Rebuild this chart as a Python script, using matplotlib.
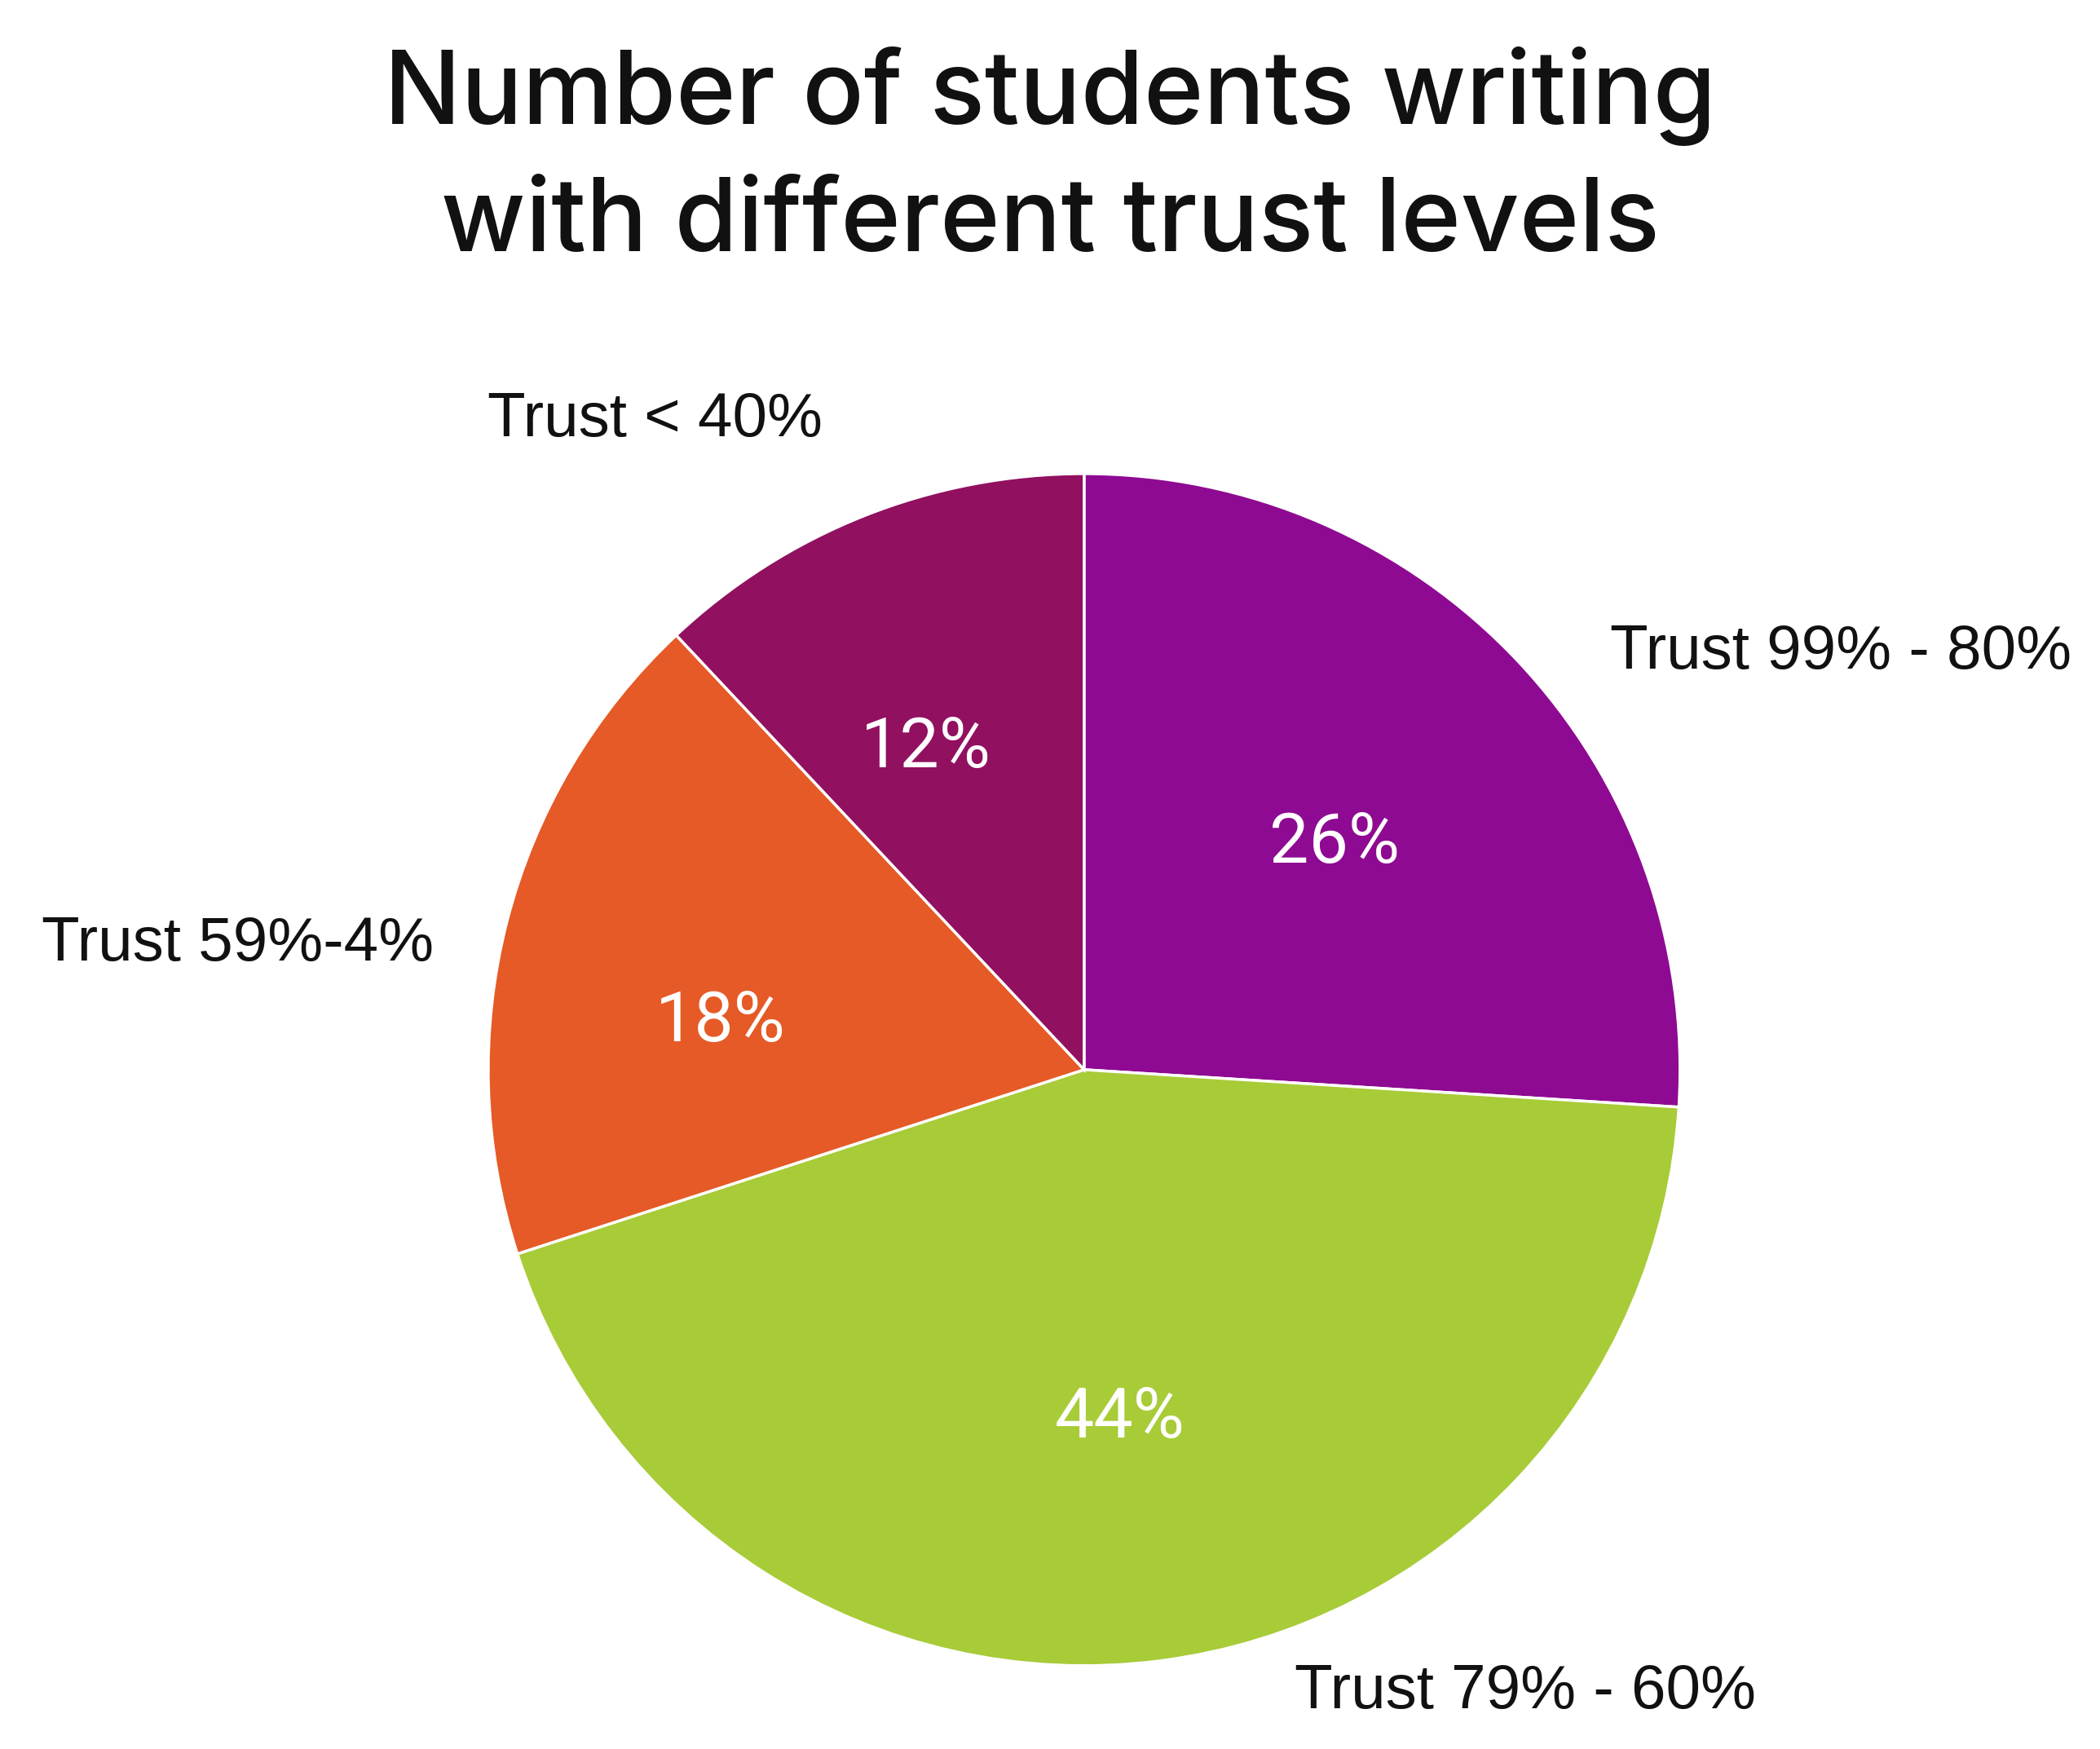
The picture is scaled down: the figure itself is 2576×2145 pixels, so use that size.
import matplotlib.pyplot as plt

# data
categories = ["Trust 99% - 80%", "Trust 79% - 60%", "Trust 59%-4%", "Trust < 40%"]
shares = [26, 44, 18, 12]
colors = ["#8E0A92", "#A8CB38", "#E55A26", "#911060"]

# where the outer labels and the percent labels sit (data units, radius 1)
label_pos = [(1.27, 0.70), (0.74, -1.045), (-1.42, 0.21), (-0.72, 1.09)]
pct_pos = [(0.42, 0.38), (0.06, -0.585), (-0.61, 0.08), (-0.265, 0.54)]

fig = plt.figure(figsize=(25.76, 21.45), dpi=100)
fig.patch.set_facecolor("white")

# title
fig.text(0.5, 0.945, "Number of students writing", ha="center", va="center",
         fontsize=90, family="Inter", weight="medium", color="#111111")
fig.text(0.5, 0.872, "with different trust levels", ha="center", va="center",
         fontsize=90, family="Inter", weight="medium", color="#111111")

ax = fig.add_axes([0.2325, 0.0476, 0.5675, 0.6816])
wedges, _ = ax.pie(shares, colors=colors, startangle=90, counterclock=False,
                   radius=1, wedgeprops={"edgecolor": "white", "linewidth": 2.5})
ax.set_xlim(-1, 1)
ax.set_ylim(-1, 1)
ax.set_aspect("equal")
ax.axis("off")

for name, (x, y) in zip(categories, label_pos):
    ax.text(x, y, name, ha="center", va="center", fontsize=55,
            family="Liberation Sans", color="#111111", clip_on=False)

for val, (x, y) in zip(shares, pct_pos):
    ax.text(x, y, f"{val}%", ha="center", va="center", fontsize=62,
            family="Roboto", color="white")

fig.savefig("out.png", dpi=100)
